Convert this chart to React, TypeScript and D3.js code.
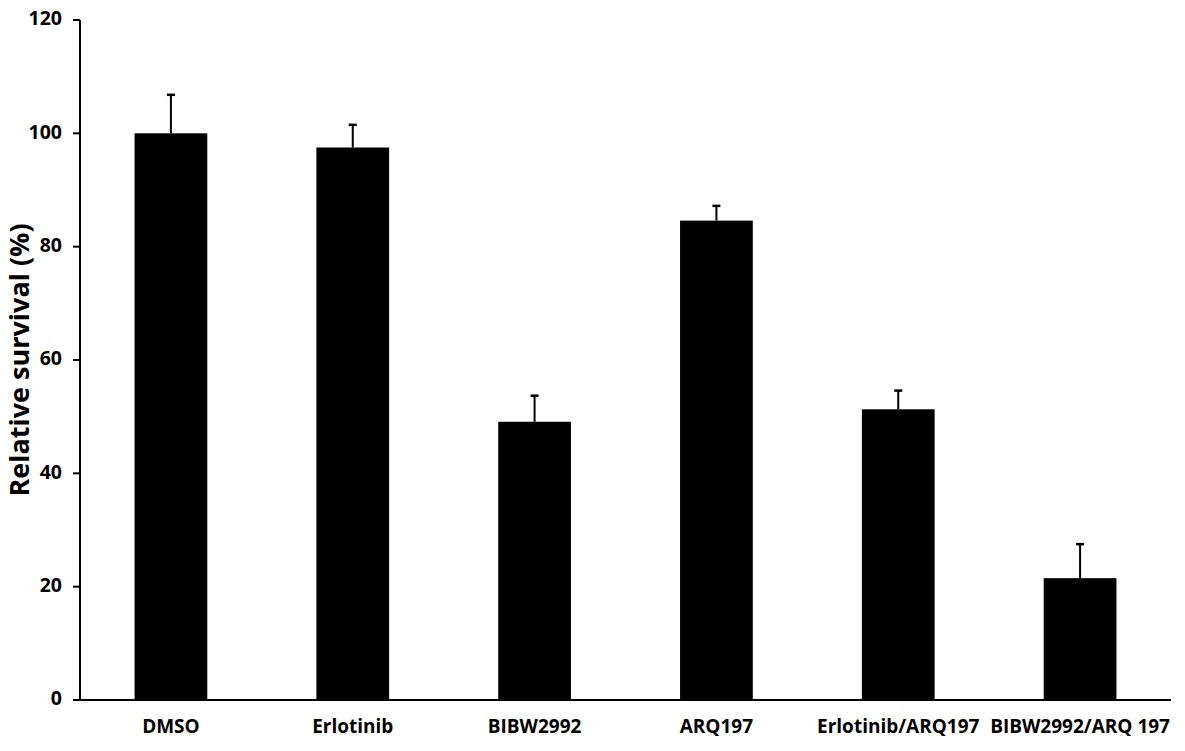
import React from "react";
import * as d3 from "d3";

const categories = ["DMSO", "Erlotinib", "BIBW2992", "ARQ197", "Erlotinib/ARQ197", "BIBW2992/ARQ 197"];
const means = [100, 97.5, 49.1, 84.6, 51.3, 21.5];
const errorTops = [106.8, 101.5, 53.7, 87.2, 54.6, 27.5];
const yTicks = [0, 20, 40, 60, 80, 100, 120];

const W = 1185;
const H = 751;
const FONT = "'Open Sans', sans-serif";

export default function App() {
  const x = d3.scaleBand<string>().domain(categories).range([80, 1171]).paddingInner(0.6).paddingOuter(0.3);
  const y = d3.scaleLinear().domain([0, 120]).range([700, 20]);
  const bw = x.bandwidth();

  return (
    <svg width={W} height={H} style={{ position: "absolute", left: 0, top: 0, background: "#fff" }}>
      {categories.map((c, i) => {
        const cx = (x(c) as number) + bw / 2;
        return (
          <g key={c}>
            <line x1={cx} x2={cx} y1={y(means[i])} y2={y(errorTops[i])} stroke="#000" strokeWidth={2} />
            <line x1={cx - 4} x2={cx + 4} y1={y(errorTops[i])} y2={y(errorTops[i])} stroke="#000" strokeWidth={2.5} />
            <rect x={x(c)} y={y(means[i])} width={bw} height={y(0) - y(means[i])} fill="#000" />
            <text x={cx} y={728} textAnchor="middle" dominantBaseline="middle" fontFamily={FONT} fontWeight={700} fontSize={19}>
              {c}
            </text>
          </g>
        );
      })}
      <line x1={80} x2={80} y1={y(120)} y2={y(0)} stroke="#000" strokeWidth={2} />
      <line x1={73} x2={1171} y1={y(0)} y2={y(0)} stroke="#000" strokeWidth={2} />
      {yTicks.map((t) => (
        <g key={t}>
          <line x1={73} x2={80} y1={y(t)} y2={y(t)} stroke="#000" strokeWidth={2} />
          <text x={62} y={y(t)} textAnchor="end" dominantBaseline="middle" fontFamily={FONT} fontWeight={700} fontSize={19.5}>
            {t}
          </text>
        </g>
      ))}
      <text
        transform={`translate(22,360) rotate(-90)`}
        textAnchor="middle"
        dominantBaseline="middle"
        fontFamily={FONT}
        fontWeight={700}
        fontSize={27}
      >
        Relative survival (%)
      </text>
    </svg>
  );
}
